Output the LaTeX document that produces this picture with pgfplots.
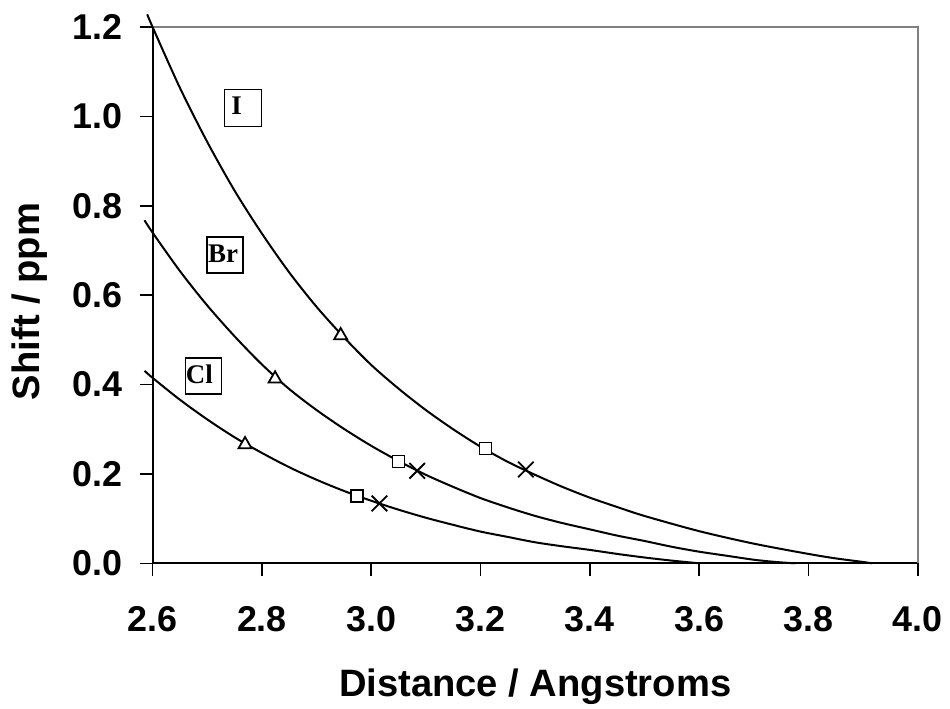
\documentclass[border=0pt]{standalone}
\usepackage{fontspec}
\setmainfont{Liberation Sans}
\newfontfamily\serifbold{Liberation Serif}
\usepackage{pgfplots}
\pgfplotsset{compat=1.18}
\definecolor{framegray}{RGB}{128,128,128}

\begin{document}
\begin{tikzpicture}
\begin{axis}[
    scale only axis,
    width=765bp, height=536bp,
    xmin=2.6, xmax=4.0, ymin=0, ymax=1.2,
    axis x line*=bottom, axis y line*=left,
    axis line style={line width=1.9bp, black},
    xtick={2.6,2.8,3.0,3.2,3.4,3.6,3.8,4.0},
    ytick={0,0.2,0.4,0.6,0.8,1.0,1.2},
    tick align=outside,
    major tick length=12.7bp,
    tick style={line width=1.6bp, black},
    clip=false,
    /pgf/number format/fixed,
    /pgf/number format/fixed zerofill,
    /pgf/number format/precision=1,
    /pgf/number format/assume math mode=true,
    ticklabel style={font=\fontsize{36}{40}\selectfont\bfseries, inner sep=0pt},
    xticklabel style={anchor=north, yshift=-30bp},
    yticklabel style={anchor=east, xshift=-17.5bp},
    xlabel={Distance / Angstroms},
    ylabel={Shift / ppm},
    label style={font=\fontsize{38.3}{42}\selectfont\bfseries, inner sep=0pt},
    xlabel style={at={(axis description cs:0.5,-0.2494)}, anchor=base},
    ylabel style={at={(axis description cs:-0.1482,0.4884)}, anchor=base},
]
% gray frame on top and right
\draw[line width=1.9bp, framegray] (rel axis cs:0,1) -- (rel axis cs:1,1) -- (rel axis cs:1,0);

% I
\addplot[black, line width=2bp, smooth] coordinates {
 (2.59,1.229) (2.60,1.200) (2.65,1.064) (2.70,0.943) (2.75,0.834) (2.80,0.738)
 (2.85,0.651) (2.90,0.574) (2.95,0.506) (3.00,0.444) (3.05,0.391) (3.10,0.343)
 (3.15,0.300) (3.20,0.261) (3.25,0.227) (3.30,0.198) (3.35,0.171) (3.40,0.147)
 (3.45,0.126) (3.50,0.106) (3.60,0.072) (3.70,0.044) (3.80,0.021) (3.85,0.011)
 (3.90,0.003) (3.916,0.000)
};
% Br
\addplot[black, line width=2bp, smooth] coordinates {
 (2.585,0.768) (2.60,0.740) (2.65,0.654) (2.70,0.577) (2.75,0.508) (2.80,0.445)
 (2.85,0.390) (2.90,0.343) (2.95,0.301) (3.00,0.263) (3.05,0.229) (3.10,0.198)
 (3.15,0.171) (3.20,0.146) (3.25,0.125) (3.30,0.106) (3.35,0.090) (3.40,0.076)
 (3.45,0.062) (3.50,0.050) (3.55,0.037) (3.60,0.026) (3.65,0.017) (3.70,0.008)
 (3.74,0.003) (3.775,0.000)
};
% Cl
\addplot[black, line width=2bp, smooth] coordinates {
 (2.585,0.431) (2.60,0.415) (2.65,0.366) (2.70,0.322) (2.75,0.282) (2.80,0.247)
 (2.85,0.215) (2.90,0.187) (2.95,0.162) (3.00,0.140) (3.05,0.120) (3.10,0.102)
 (3.15,0.086) (3.20,0.071) (3.25,0.059) (3.30,0.047) (3.35,0.038) (3.40,0.030)
 (3.45,0.021) (3.50,0.013) (3.55,0.006) (3.60,0.000)
};

% markers
\addplot[only marks, mark=triangle*, mark size=7.5bp,
    mark options={draw=black, fill=white, line width=1.8bp}] coordinates {
 (2.944,0.510) (2.824,0.413) (2.769,0.266)
};
\addplot[only marks, mark=square*, mark size=6bp,
    mark options={draw=black, fill=white, line width=1.8bp}] coordinates {
 (3.209,0.257) (3.050,0.228) (2.974,0.151)
};
\addplot[only marks, mark=x, mark size=11bp,
    mark options={draw=black, line width=1.8bp}] coordinates {
 (3.283,0.210) (3.084,0.207) (3.015,0.134)
};

% halogen labels
\node[draw=black, line width=1.4bp, minimum width=37bp, minimum height=37bp, inner sep=0pt]
    (bI) at (axis cs:2.765,1.019) {};
\node[anchor=base west, inner sep=0pt, font=\serifbold\bfseries\fontsize{27}{30}\selectfont]
    at ([xshift=7.6bp, yshift=-6.7bp]bI.west) {I};
\node[draw=black, line width=1.4bp, minimum width=36bp, minimum height=36bp, inner sep=0pt]
    (bBr) at (axis cs:2.732,0.690) {};
\node[anchor=base west, inner sep=0pt, font=\serifbold\bfseries\fontsize{27}{30}\selectfont]
    at ([xshift=1.8bp, yshift=-7bp]bBr.west) {Br};
\node[draw=black, line width=1.4bp, minimum width=36bp, minimum height=36bp, inner sep=0pt]
    (bCl) at (axis cs:2.693,0.419) {};
\node[anchor=base west, inner sep=0pt, font=\serifbold\bfseries\fontsize{27}{30}\selectfont]
    at ([xshift=0.9bp, yshift=-7bp]bCl.west) {Cl};
\end{axis}
\pgfresetboundingbox
\path (-152.7bp,-145.7bp) rectangle (797.3bp,563.3bp);
\end{tikzpicture}
\end{document}
